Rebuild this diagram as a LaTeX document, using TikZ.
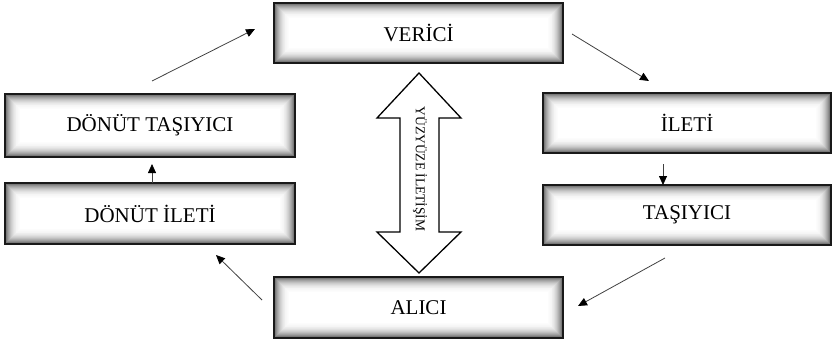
\documentclass[tikz,border=0pt]{standalone}
\usepackage{fontspec}
\setmainfont{Liberation Serif}
\usetikzlibrary{arrows.meta,calc}
\tikzset{
  sbox/.style={draw=black!90, line width=2pt, outer sep=0pt, inner sep=0pt,
    minimum width=#1, minimum height=60pt, font=\fontsize{21}{24}\selectfont,
    path picture={
      \foreach \i in {0,...,16}{
        \pgfmathtruncatemacro{\c}{round(60*(1-\i/17)^2.5)}
        \fill[black!\c] ([shift={(\i pt,-\i pt)}]path picture bounding box.north west)
          rectangle ([shift={(-\i pt,\i pt)}]path picture bounding box.south east);
      }
      \fill[white] ([shift={(17pt,-17pt)}]path picture bounding box.north west)
          rectangle ([shift={(-17pt,17pt)}]path picture bounding box.south east);
    }},
  arr/.style={draw=black!75, line width=0.8pt, -{Triangle[length=9pt,width=8pt,fill=black,color=black]}}
}
\begin{document}
\begin{tikzpicture}[x=1pt,y=-1pt]
\useasboundingbox (0,0) rectangle (832,342);
% boxes
\node[sbox=289pt] (ver) at (418.5,33) {VERİCİ};
\node[sbox=289pt, minimum height=61pt] (alc) at (418.5,307.5) {ALICI};
\node[sbox=288pt] (ile) at (687,123) {İLETİ};
\node[sbox=288pt] (tas) at (687,215) {TAŞIYICI};
\node[sbox=290pt, minimum height=63pt] (dta) at (150,125.5) {DÖNÜT TAŞIYICI};
\node[sbox=290pt, minimum height=61pt] (dil) at (150,213.5) {DÖNÜT İLETİ};
% double arrow
\draw[line width=1.3pt, fill=white, line join=miter]
  (419,73) -- (461,118) -- (439,118) -- (439,232) -- (461,232) -- (419,273)
  -- (377,232) -- (400,232) -- (400,118) -- (377,118) -- cycle;
\node[rotate=-90, font=\fontsize{13.5}{15}\selectfont, inner sep=0pt] (yuz) at (420,169) {YÜZYÜZE İLETİŞİM};
% connectors
\coordinate (a1s) at (572,34);  \coordinate (a1e) at (649,81);
\coordinate (a2s) at (665,258); \coordinate (a2e) at (578,306);
\coordinate (a3s) at (262,300); \coordinate (a3e) at (216,255);
\coordinate (a4s) at (152,81);  \coordinate (a4e) at (255,29);
\draw[arr] (a1s) -- (a1e);
\draw[arr] (a2s) -- (a2e);
\draw[arr] (a3s) -- (a3e);
\draw[arr] (a4s) -- (a4e);
\draw[arr, shorten <=11pt] ([xshift=-24pt]ile.south) -- ([xshift=-24pt]tas.north);
\draw[arr, shorten >=7pt] ([xshift=2pt]dil.north) -- ([xshift=2pt]dta.south);
\end{tikzpicture}
\end{document}
